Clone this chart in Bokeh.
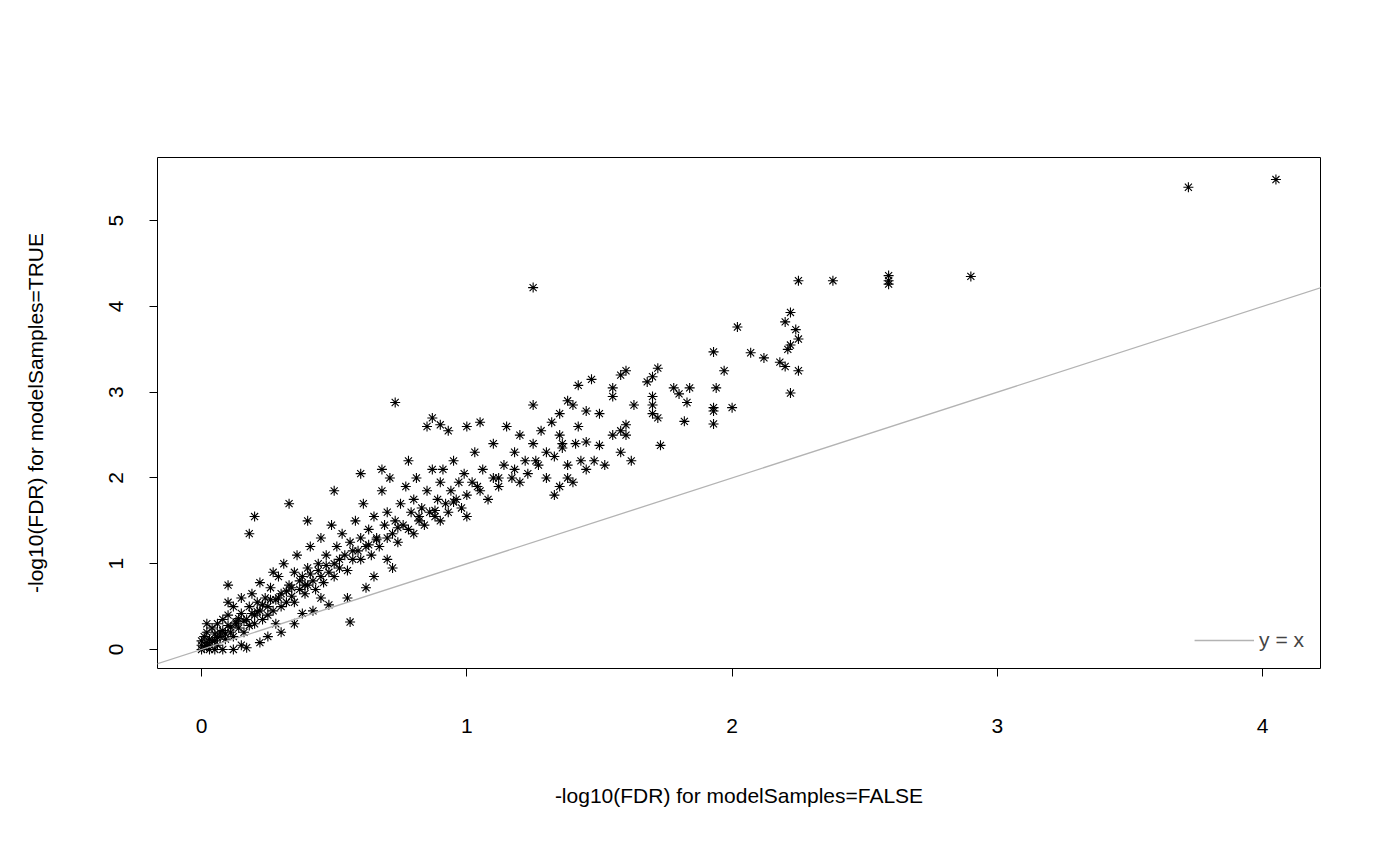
from bokeh.plotting import figure
from bokeh.models import Legend, LegendItem, FixedTicker, Range1d
from bokeh.embed import file_html
from bokeh.resources import INLINE

x_false = [4.05,3.72,2.9,2.59,2.59,2.59,2.38,2.25,1.25,2.22,2.2,2.24,2.25,2.22,2.21,2.2,2.25,2.22,2.02,1.93,1.97,2.07,2.12,2.18,
 1.94,1.84,1.83,1.8,1.78,1.93,1.93,1.93,2.0,1.82,1.72,1.7,1.68,1.7,1.7,1.7,1.72,1.73,1.63,1.6,1.58,1.55,1.55,1.6,1.58,1.6,
 1.55,1.58,1.62,1.52,1.48,1.5,1.45,1.42,1.4,1.38,1.42,1.35,1.36,1.33,1.38,1.35,0.73,0.56,
 0,0,0,0.01,0.01,0.02,0.02,0.03,0.03,0.04,0.05,0.05,0.06,0.06,0.07,0.08,0.08,0.09,0.1,0.1,0.11,0.12,0.12,0.13,0.14,0.15,0.15,
 0.16,0.17,0.18,0.18,0.19,0.2,0.2,0.21,0.22,0.22,0.23,0.24,0.25,0.25,0.26,0.27,0.27,0.28,0.29,0.3,0.3,0.31,0.32,0.33,0.34,
 0.35,0.35,0.36,0.37,0.38,0.39,0.4,0.4,0.41,0.42,0.43,0.44,0.45,0.45,0.46,0.47,0.48,0.49,0.5,0.5,0.51,0.52,0.53,0.54,0.55,
 0.56,0.57,0.58,0.59,0.6,0.6,0.61,0.62,0.63,0.64,0.65,0.66,0.67,0.68,0.69,0.7,0.7,0.71,0.72,0.73,0.74,0.75,0.76,0.77,0.78,
 0.79,0.8,0.8,0.81,0.82,0.83,0.84,0.85,0.86,0.87,0.88,0.89,0.9,0.9,0.91,0.92,0.93,0.94,0.95,0.96,0.97,0.98,0.99,1.0,1.0,
 1.02,1.03,1.05,1.06,1.08,1.1,1.1,1.12,1.14,1.15,1.17,1.18,1.2,1.2,1.22,1.23,1.25,1.25,1.27,1.28,1.3,1.3,1.32,1.33,1.35,
 1.36,1.38,1.4,1.41,1.43,1.45,1.47,1.5,1.45,0.85,0.9,0.93,0.87,1.05,1.0,0.2,0.18,0.1,0.33,0.5,0.4,0.6,0.78,0.68,0.15,0.22,
 0.17,0.3,0.35,0.25,0.42,0.48,0.55,0.62,0.45,0.38,0.28,0.65,0.72,0.7,0.12,0.08,0.05,0.03,0.02,0.1,
 0.02,0.04,0.06,0.07,0.09,0.11,0.13,0.14,0.16,0.19,0.21,0.23,0.26,0.29,0.32,0.34,0.37,0.39,0.41,0.44,0.47,0.52,0.57,0.63,
 0.66,0.74,0.82,0.88,0.95,1.04,1.12,1.18,1.26]
y_true = [5.48,5.39,4.35,4.36,4.3,4.26,4.3,4.3,4.22,3.93,3.82,3.73,3.62,3.55,3.5,3.3,3.25,2.99,3.76,3.47,3.25,3.46,3.4,3.35,
 3.05,3.05,2.88,2.98,3.05,2.82,2.78,2.63,2.82,2.66,3.28,3.18,3.12,2.95,2.85,2.75,2.7,2.38,2.85,3.25,3.2,2.95,3.05,2.62,2.55,2.5,
 2.5,2.3,2.2,2.15,2.2,2.38,2.42,2.6,2.85,2.9,3.08,2.75,2.4,2.25,2.0,1.9,2.88,0.32,
 0,0.05,0.1,0.02,0.15,0.08,0.2,0.05,0.12,0.25,0.1,0.18,0.3,0.05,0.15,0.22,0.35,0.12,0.28,0.4,0.2,0.5,0.15,0.32,0.25,0.42,0.6,
 0.2,0.35,0.5,0.28,0.65,0.4,0.3,0.55,0.45,0.78,0.35,0.6,0.5,0.4,0.72,0.9,0.45,0.58,0.85,0.5,0.65,1.0,0.55,0.75,0.62,
 0.9,0.55,1.1,0.7,0.85,0.65,0.95,0.75,1.2,0.8,0.7,1.0,0.85,1.3,0.78,1.1,0.9,1.45,1.0,0.85,1.2,0.95,1.35,1.1,0.92,
 1.25,1.05,1.5,1.15,1.3,1.05,1.7,1.2,1.4,1.1,1.55,1.3,1.2,1.85,1.45,1.3,1.6,2.0,1.35,1.5,1.25,1.7,1.45,1.9,1.4,
 1.6,1.35,1.75,2.0,1.5,1.65,1.45,1.85,1.6,2.1,1.55,1.75,1.5,1.95,2.1,1.7,1.6,1.85,2.2,1.75,1.95,1.65,2.05,1.8,1.55,
 1.95,2.3,1.85,2.1,1.75,2.0,2.4,1.9,2.15,2.6,2.0,2.3,1.95,2.5,2.2,2.05,2.4,2.85,2.15,2.55,2.3,2.0,2.65,1.8,2.5,
 2.35,2.15,1.95,2.4,2.2,2.1,3.15,2.75,2.78,2.6,2.62,2.55,2.7,2.65,2.6,1.55,1.35,0.75,1.7,1.85,1.5,2.05,2.2,2.1,0.05,0.08,
 0.02,0.2,0.3,0.15,0.45,0.52,0.6,0.72,0.6,0.42,0.3,0.85,0.95,1.05,0.0,0.0,0.0,0.0,0.3,0.55,
 0.04,0.1,0.14,0.2,0.18,0.26,0.3,0.36,0.33,0.42,0.44,0.52,0.58,0.6,0.68,0.72,0.8,0.75,0.88,0.92,0.98,1.05,1.15,1.22,
 1.28,1.42,1.55,1.62,1.72,1.9,2.0,2.1,2.2]
line_x = [-0.3, 4.4]
x_ticks = [0, 1, 2, 3, 4]
y_ticks = [0, 1, 2, 3, 4, 5]

p = figure(frame_width=1163, frame_height=511, output_backend="svg", toolbar_location=None,
           x_range=Range1d(-0.166, 4.218), y_range=Range1d(-0.222, 5.737),
           min_border_left=157, min_border_top=157, min_border_right=60, min_border_bottom=160)
p.background_fill_color = "white"
p.border_fill_color = "white"
p.outline_line_color = "black"
p.outline_line_width = 1
p.grid.visible = False

n = min(len(x_false), len(y_true))
p.scatter(x_false[:n], y_true[:n], marker="asterisk", size=10, line_color="black", line_width=1.1)
ln = p.line(line_x, line_x, line_color="#b3b3b3", line_width=1.3)

for ax, ticks in ((p.xaxis, x_ticks), (p.yaxis, y_ticks)):
    ax.ticker = FixedTicker(ticks=ticks)
    ax.axis_line_color = None
    ax.major_tick_out = 8
    ax.major_tick_in = 0
    ax.major_tick_line_color = "black"
    ax.minor_tick_line_color = None
    ax.major_label_text_font = "Liberation Sans"
    ax.major_label_text_font_size = "21px"
    ax.major_label_text_color = "black"
    ax.axis_label_text_font = "Liberation Sans"
    ax.axis_label_text_font_size = "21px"
    ax.axis_label_text_font_style = "normal"
    ax.axis_label_text_color = "black"

p.xaxis.axis_label = "-log10(FDR) for modelSamples=FALSE"
p.yaxis.axis_label = "-log10(FDR) for modelSamples=TRUE"
p.yaxis.major_label_orientation = "vertical"
p.xaxis.major_label_standoff = 42
p.yaxis.major_label_standoff = 26
p.xaxis.axis_label_standoff = 48
p.yaxis.axis_label_standoff = 60

legend = Legend(items=[LegendItem(label="y = x", renderers=[ln])], location="bottom_right",
                border_line_alpha=0, background_fill_alpha=0, label_text_font="Liberation Sans",
                label_text_font_size="21px", glyph_width=60, margin=8, padding=8, spacing=0)
p.add_layout(legend)

open("out.html", "w").write(file_html(p, INLINE))
